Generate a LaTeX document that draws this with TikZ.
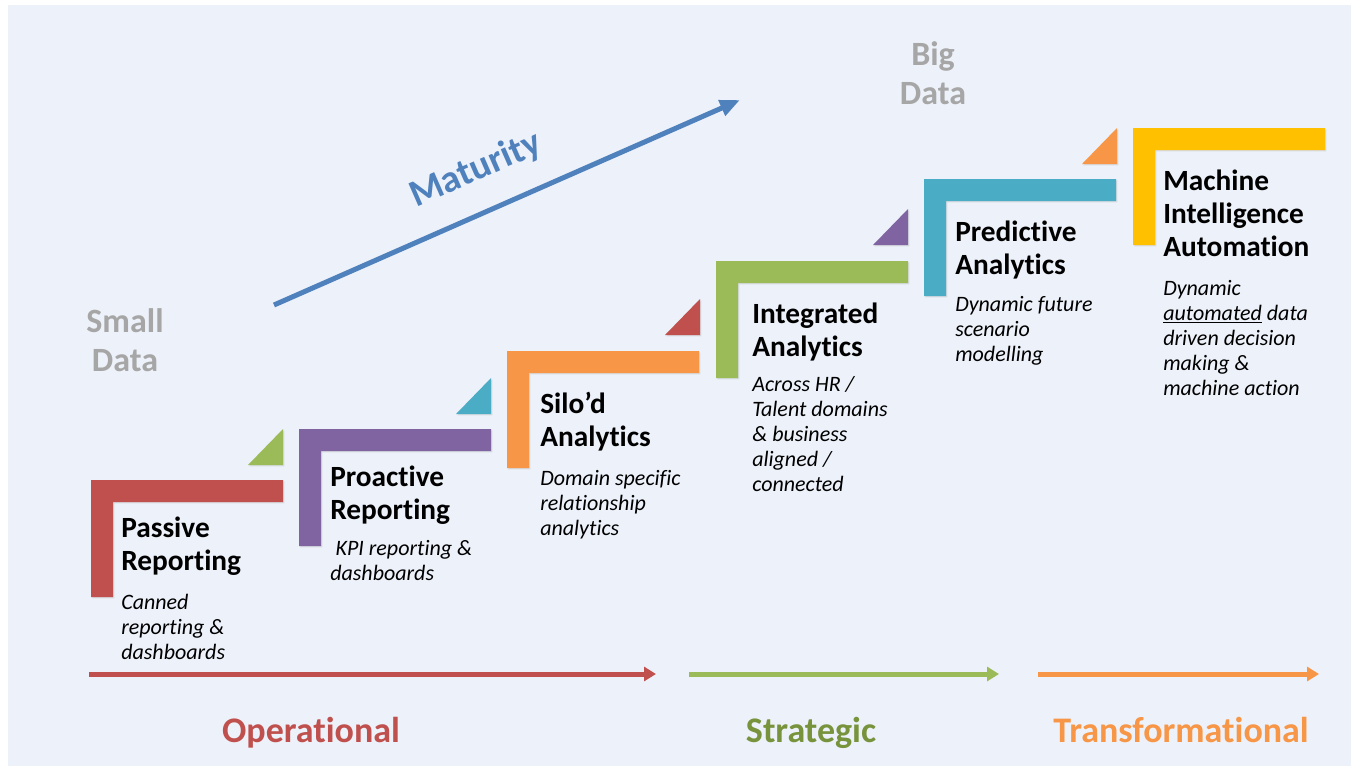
\documentclass[tikz,border=0pt]{standalone}
\usepackage{fontspec}
\setmainfont{Carlito}[Ligatures={TeX,NoCommon}]
\usepackage{xcolor}
\usepackage{tikz}
\usetikzlibrary{arrows.meta, positioning, shadows}

\definecolor{bgblue}{HTML}{EDF1F9}
\definecolor{sred}{HTML}{C0504D}
\definecolor{sgreen}{HTML}{9BBB59}
\definecolor{sgreendark}{HTML}{77933C}
\definecolor{spurple}{HTML}{8064A2}
\definecolor{steal}{HTML}{4BACC6}
\definecolor{sorange}{HTML}{F79646}
\definecolor{syellow}{HTML}{FFC000}
\definecolor{sblue}{HTML}{4F81BD}
\definecolor{sgray}{HTML}{A6A6A6}

\begin{document}
\begin{tikzpicture}[x=0.75pt, y=-0.75pt,
        stage/.style={anchor=north west, inner sep=0pt, align=left, font=\fontsize{22}{24.5}\selectfont\bfseries},
        stagetext/.style={anchor=north west, inner sep=0pt, align=left, font=\fontsize{16.5}{18.75}\selectfont\itshape},
        datasize/.style={inner sep=0pt, align=center, text=sgray, font=\fontsize{25.5}{29}\selectfont\bfseries},
        softshadow/.style={drop shadow={shadow xshift=1pt, shadow yshift=-1pt, opacity=0.2}},
        phase/.style={line width=3.75pt, -{Triangle[length=9pt, width=10.5pt]}},
        phasename/.style={anchor=base, inner sep=0pt, font=\fontsize{27}{30}\selectfont\bfseries}]
        \useasboundingbox (0,0) rectangle (1358,771);

        % Background
        \fill[white] (0,0) rectangle (1358,771);
        \fill[bgblue] (8,5) rectangle (1351,766);

        % Steps
        \foreach \x/\y/\c in {91/480/sred, 299/429/spurple, 507/351/sorange, 716/261/sgreen, 924/179/steal, 1133/128/syellow} {
            \fill[\c, softshadow] (\x,\y) -- ++(192,0) -- ++(0,22) -- ++(-170,0) -- ++(0,95) -- ++(-22,0) -- cycle;
        }

        % Corner triangles
        \foreach \x/\y/\c in {283/465/sgreen, 491/414/steal, 700/335/sred, 908/245/spurple, 1117/164/sorange} {
            \fill[\c, softshadow] (\x,\y) -- ++(-35,0) -- ++(35,-36) -- cycle;
        }

        % Stage names
        \node[stage] (passive) at (121,517) {Passive\\Reporting};
        \node[stage] (proactive) at (330,466) {Proactive\\Reporting};
        \node[stage] (silod) at (540,392) {Silo'd\\Analytics};
        \node[stage] (integrated) at (752,303) {Integrated\\Analytics};
        \node[stage] (predictive) at (955,221) {Predictive\\Analytics};
        \node[stage] (machine) at (1163,170) {Machine\\Intelligence\\Automation};

        % Stage descriptions
        \node[stagetext] (passivetxt) at (121,594) {Canned\\reporting \&\\dashboards};
        \node[stagetext] (proactivetxt) at (330,540) {\hspace{4pt}KPI reporting \&\\dashboards};
        \node[stagetext] (silodtxt) at (540,470) {Domain specific\\relationship\\analytics};
        \node[stagetext] (integratedtxt) at (752,376) {Across HR /\\Talent domains\\\& business\\aligned /\\connected};
        \node[stagetext] (predictivetxt) at (955,296) {Dynamic future\\scenario\\modelling};
        \node[stagetext] (machinetxt) at (1163,280) {Dynamic\\\underline{automated} data\\driven decision\\making \&\\machine action};

        % Data size
        \node[datasize] (small) at (125,340) {Small\\Data};
        \node[datasize] (big) at (933,73) {Big\\Data};

        % Maturity
        \coordinate (maturitystart) at (274,305);
        \coordinate (maturityend) at (740,100);
        \draw[sblue, line width=3.75pt, -{Triangle[length=15pt, width=12pt]}] (maturitystart) -- (maturityend);
        \node[text=sblue, font=\fontsize{28.5}{30}\selectfont\bfseries, rotate=23.7] (maturity) at (476,170) {Maturity};

        % Phases
        \coordinate (opstart) at (89,674);
        \coordinate (opend) at (656,674);
        \coordinate (ststart) at (689,674);
        \coordinate (stend) at (999,674);
        \coordinate (trstart) at (1038,674);
        \coordinate (trend) at (1319,674);
        \draw[phase, sred] (opstart) -- (opend);
        \draw[phase, sgreen] (ststart) -- (stend);
        \draw[phase, sorange] (trstart) -- (trend);
        \node[phasename, text=sred] (operational) at (311,742) {Operational};
        \node[phasename, text=sgreendark] (strategic) at (811,742) {Strategic};
        \node[phasename, text=sorange] (transformational) at (1181,742) {Transformational};
\end{tikzpicture}
\end{document}
